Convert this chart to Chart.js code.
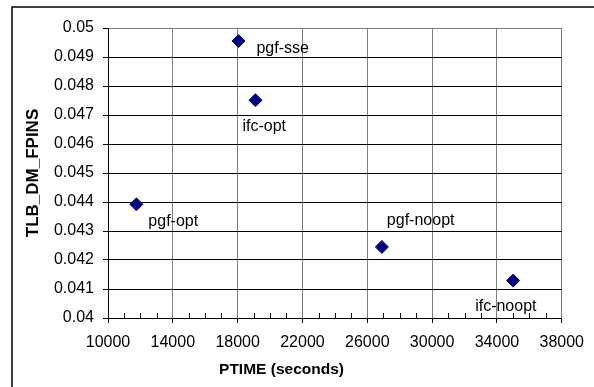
<!DOCTYPE html>
<html>
<head>
<meta charset="utf-8">
<script src="https://cdn.jsdelivr.net/npm/chart.js@4.4.0/dist/chart.umd.min.js"></script>
<style>
  html, body { margin: 0; padding: 0; background: #fff; }
  canvas { display: block; }
</style>
</head>
<body>
<canvas id="chart" width="594" height="387"></canvas>
<script>
// runs and their measured values
const runLabels = ['pgf-sse', 'ifc-opt', 'pgf-opt', 'pgf-noopt', 'ifc-noopt'];
const ptime = [18050, 19100, 11750, 26900, 35000];
const tlbDmFpins = [0.04955, 0.04751, 0.04392, 0.04245, 0.04129];

// axis ticks
const xTicks = [10000, 14000, 18000, 22000, 26000, 30000, 34000, 38000];
const yTicks = [0.04, 0.041, 0.042, 0.043, 0.044, 0.045, 0.046, 0.047, 0.048, 0.049, 0.05];
const yTickLabels = ['0.04', '0.041', '0.042', '0.043', '0.044', '0.045', '0.046', '0.047', '0.048', '0.049', '0.05'];

const FONT = '"Liberation Sans", Arial, sans-serif';
Chart.defaults.font.family = FONT;
Chart.defaults.color = '#000';

// where each point label sits relative to its marker
const labelOffsets = [[18, 12], [-13, 31], [12, 22], [5, -22], [-38, 30]];

const pointLabels = {
    id: 'pointLabels',
    afterDatasetsDraw(chart) {
        const {ctx, scales: {x, y}} = chart;
        ctx.save();
        ctx.font = '16px ' + FONT;
        ctx.fillStyle = '#000';
        ctx.textAlign = 'left';
        ctx.textBaseline = 'alphabetic';
        runLabels.forEach((label, i) => {
            const px = x.getPixelForValue(ptime[i]);
            const py = y.getPixelForValue(tlbDmFpins[i]);
            ctx.fillText(label, px + labelOffsets[i][0], py + labelOffsets[i][1]);
        });
        ctx.restore();
    }
};

const minorTicks = {
    id: 'minorTicks',
    afterDraw(chart) {
        const {ctx, scales: {x}, chartArea} = chart;
        ctx.save();
        ctx.strokeStyle = '#000';
        ctx.lineWidth = 1;
        ctx.beginPath();
        for (let i = 0; i < xTicks.length - 1; i++) {
            const step = (xTicks[i + 1] - xTicks[i]) / 4;
            for (let k = 1; k < 4; k++) {
                const px = Math.round(x.getPixelForValue(xTicks[i] + k * step)) + 0.5;
                ctx.moveTo(px, chartArea.bottom);
                ctx.lineTo(px, chartArea.bottom - 5);
            }
        }
        ctx.stroke();
        ctx.restore();
    }
};

const frame = {
    id: 'frame',
    beforeDraw(chart) {
        const {ctx, width, height} = chart;
        ctx.save();
        ctx.fillStyle = '#fff';
        ctx.fillRect(0, 0, width, height);
        ctx.restore();
    },
    afterDraw(chart) {
        const {ctx, width, height} = chart;
        ctx.save();
        ctx.strokeStyle = '#000';
        ctx.lineWidth = 1.5;
        ctx.beginPath();
        ctx.moveTo(12, height);
        ctx.lineTo(12, 7);
        ctx.lineTo(width, 7);
        ctx.stroke();
        ctx.restore();
    }
};

new Chart(document.getElementById('chart'), {
    type: 'scatter',
    data: {
        datasets: [{
            data: ptime.map((v, i) => ({x: v, y: tlbDmFpins[i]})),
            pointStyle: 'rectRot',
            pointRadius: 6.5,
            pointHoverRadius: 6.5,
            backgroundColor: '#000080',
            borderColor: '#000080',
            borderWidth: 1
        }]
    },
    options: {
        responsive: false,
        animation: false,
        events: [],
        layout: {padding: {top: 28, right: 31, left: 0, bottom: 0}},
        plugins: {
            legend: {display: false},
            tooltip: {enabled: false},
            title: {
                display: true,
                position: 'bottom',
                text: 'PTIME (seconds)',
                color: '#000',
                font: {size: 15.5, weight: 'bold', family: FONT},
                padding: {top: 4, bottom: 8}
            }
        },
        scales: {
            x: {
                type: 'linear',
                min: 10000,
                max: 38000,
                afterBuildTicks: (scale) => { scale.ticks = xTicks.map(v => ({value: v})); },
                afterFit: (scale) => { scale.height = 38.4; },
                ticks: {
                    autoSkip: false,
                    maxRotation: 0,
                    padding: 10,
                    font: {size: 16},
                    callback: (v) => String(v)
                },
                grid: {color: '#808080', tickColor: '#000', tickLength: 5, lineWidth: 1},
                border: {color: '#000', width: 1}
            },
            y: {
                type: 'linear',
                min: 0.04,
                max: 0.05,
                afterBuildTicks: (scale) => { scale.ticks = yTicks.map(v => ({value: v})); },
                afterFit: (scale) => { scale.width = 108; },
                ticks: {
                    autoSkip: false,
                    padding: 9,
                    font: {size: 16},
                    callback: (v, i) => yTickLabels[i]
                },
                grid: {
                    color: (c) => c.index === yTicks.length - 1 ? '#808080' : '#000',
                    tickColor: '#000',
                    tickLength: 5,
                    lineWidth: 1
                },
                border: {color: '#000', width: 1},
                title: {
                    display: true,
                    text: 'TLB_DM_FPINS',
                    font: {size: 17, weight: 'bold'},
                    padding: {top: 23, bottom: 0}
                }
            }
        }
    },
    plugins: [frame, minorTicks, pointLabels]
});
</script>
</body>
</html>
